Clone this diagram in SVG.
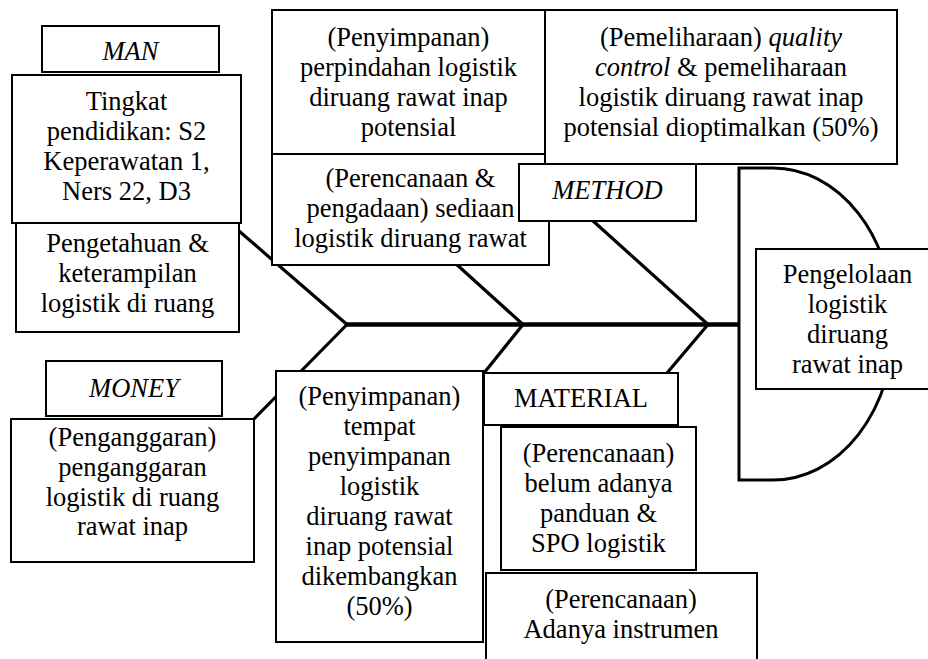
<svg xmlns="http://www.w3.org/2000/svg" width="928" height="659" viewBox="0 0 928 659">
<style>
  .box { fill: #ffffff; stroke: #000000; stroke-width: 2; }
  .t { font-family: "Liberation Serif", "Times New Roman", serif; font-size: 26.5px; fill: #000000; text-anchor: middle; }
  .i { font-style: italic; }
  .bone { stroke: #000000; stroke-width: 3.2; fill: none; stroke-linecap: butt; }
  .spine { stroke: #000000; stroke-width: 4.5; fill: none; }
  .head { stroke: #000000; stroke-width: 3; fill: #ffffff; }
</style>
<rect x="0" y="0" width="928" height="659" fill="#ffffff"/>

<g id="connectors">
  <path class="head" d="M739,168 H773 A121,156 0 0 1 773,480 H739 Z"/>
  <line class="spine" x1="347" y1="324.5" x2="739" y2="324.5"/>
  <line class="bone" x1="239" y1="231" x2="347" y2="324.5"/>
  <line class="bone" x1="455" y1="263" x2="523" y2="324.5"/>
  <line class="bone" x1="592" y1="220" x2="708" y2="324.5"/>
  <line class="bone" x1="347" y1="324.5" x2="253" y2="420"/>
  <line class="bone" x1="523" y1="324.5" x2="484" y2="373"/>
  <line class="bone" x1="708" y1="324.5" x2="667" y2="373"/>
</g>

<g id="man-label">
  <rect class="box" x="42" y="26" width="177" height="46"/>
  <text class="t i" x="130.5" y="60">MAN</text>
</g>

<g id="man-pendidikan">
  <rect class="box" x="12" y="75" width="229" height="148"/>
  <text class="t" x="126.5" y="110">Tingkat</text>
  <text class="t" x="126.5" y="140">pendidikan: S2</text>
  <text class="t" x="126.5" y="170">Keperawatan 1,</text>
  <text class="t" x="126.5" y="200">Ners 22, D3</text>
</g>

<g id="man-pengetahuan">
  <rect class="box" x="16" y="223" width="223" height="109"/>
  <text class="t" x="127.5" y="252">Pengetahuan &amp;</text>
  <text class="t" x="127.5" y="282">keterampilan</text>
  <text class="t" x="127.5" y="312">logistik di ruang</text>
</g>

<g id="method-penyimpanan">
  <rect class="box" x="272" y="10" width="273" height="144"/>
  <text class="t" x="408.5" y="46">(Penyimpanan)</text>
  <text class="t" x="408.5" y="76">perpindahan logistik</text>
  <text class="t" x="408.5" y="106">diruang rawat inap</text>
  <text class="t" x="408.5" y="136">potensial</text>
</g>

<g id="method-perencanaan">
  <rect class="box" x="272" y="154" width="277" height="111"/>
  <text class="t" x="410.5" y="187">(Perencanaan &amp;</text>
  <text class="t" x="410.5" y="217">pengadaan) sediaan</text>
  <text class="t" x="410.5" y="247">logistik diruang rawat</text>
</g>

<g id="method-pemeliharaan">
  <rect class="box" x="545" y="10" width="352" height="154"/>
  <text class="t" x="721" y="46">(Pemeliharaan) <tspan class="i">quality</tspan></text>
  <text class="t" x="721" y="76"><tspan class="i">control</tspan> &amp; pemeliharaan</text>
  <text class="t" x="721" y="106">logistik diruang rawat inap</text>
  <text class="t" x="721" y="136">potensial dioptimalkan (50%)</text>
</g>

<g id="method-label">
  <rect class="box" x="519" y="164" width="177" height="57"/>
  <text class="t i" x="607.5" y="199">METHOD</text>
</g>

<g id="effect">
  <rect class="box" x="756" y="249" width="184" height="140"/>
  <text class="t" x="847.5" y="283">Pengelolaan</text>
  <text class="t" x="847.5" y="313">logistik</text>
  <text class="t" x="847.5" y="343">diruang</text>
  <text class="t" x="847.5" y="373">rawat inap</text>
</g>

<g id="money-label">
  <rect class="box" x="46" y="361" width="176" height="55"/>
  <text class="t i" x="134" y="397">MONEY</text>
</g>

<g id="money-penganggaran">
  <rect class="box" x="11" y="419" width="243" height="143"/>
  <text class="t" x="132.5" y="446">(Penganggaran)</text>
  <text class="t" x="132.5" y="476">penganggaran</text>
  <text class="t" x="132.5" y="506">logistik di ruang</text>
  <text class="t" x="132.5" y="535">rawat inap</text>
</g>

<g id="material-penyimpanan">
  <rect class="box" x="276" y="371" width="207" height="271"/>
  <text class="t" x="379.5" y="405">(Penyimpanan)</text>
  <text class="t" x="379.5" y="435">tempat</text>
  <text class="t" x="379.5" y="465">penyimpanan</text>
  <text class="t" x="379.5" y="495">logistik</text>
  <text class="t" x="379.5" y="525">diruang rawat</text>
  <text class="t" x="379.5" y="555">inap potensial</text>
  <text class="t" x="379.5" y="585">dikembangkan</text>
  <text class="t" x="379.5" y="615">(50%)</text>
</g>

<g id="material-label">
  <rect class="box" x="484" y="373" width="194" height="52"/>
  <text class="t" x="581" y="407">MATERIAL</text>
</g>

<g id="material-panduan">
  <rect class="box" x="501" y="427" width="195" height="143"/>
  <text class="t" x="598.5" y="462">(Perencanaan)</text>
  <text class="t" x="598.5" y="492">belum adanya</text>
  <text class="t" x="598.5" y="522">panduan &amp;</text>
  <text class="t" x="598.5" y="552">SPO logistik</text>
</g>

<g id="material-instrumen">
  <rect class="box" x="486" y="573" width="271" height="100"/>
  <text class="t" x="621" y="608">(Perencanaan)</text>
  <text class="t" x="621" y="638">Adanya instrumen</text>
</g>
</svg>
